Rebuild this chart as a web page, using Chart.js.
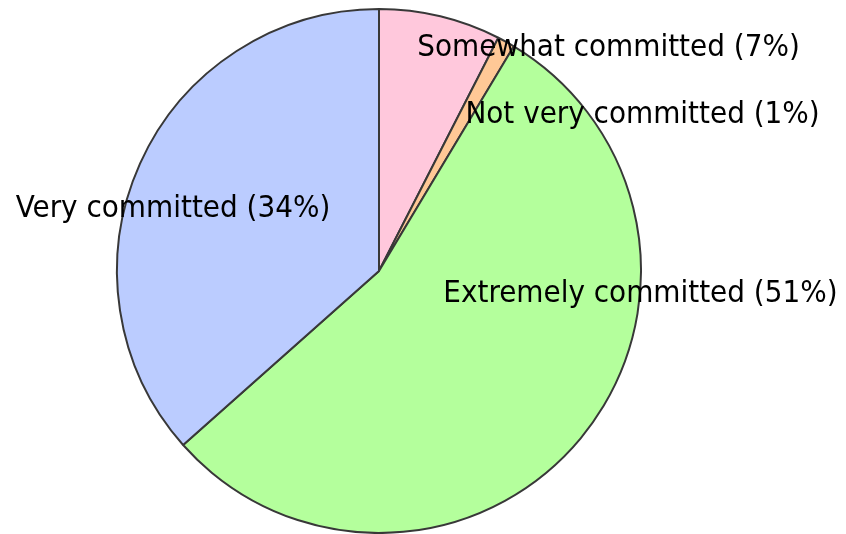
<!DOCTYPE html>
<html lang="en">
  <head>
    <meta charset="UTF-8" />
    <title>Commitment</title>
    <script src="https://cdn.jsdelivr.net/npm/chart.js@4.4.1/dist/chart.umd.min.js"></script>
    <style>
      body {
        margin: 0;
        background-color: white;
      }
      .chart-container {
        width: 846px;
        height: 534px;
      }
    </style>
  </head>
  <body>
    <div class="chart-container">
      <canvas id="myChart" width="846" height="534"></canvas>
    </div>

    <script>
      const categories = [
        "Somewhat committed",
        "Not very committed",
        "Extremely committed",
        "Very committed",
      ];
      const percents = [7, 1, 51, 34];
      const sliceColors = ["#ffc8dc", "#ffc896", "#b4ff9c", "#bbccff"];

      // label centre offsets from the pie centre, in units of the radius
      const labelSpots = [
        [0.876, -0.821],
        [1.006, -0.565],
        [0.998, 0.118],
        [-0.786, -0.206],
      ];

      const pieLabels = {
        id: "pieLabels",
        afterDraw(chart) {
          const arc = chart.getDatasetMeta(0).data[0];
          if (!arc) return;
          const r = arc.outerRadius;
          const ctx = chart.ctx;
          ctx.save();
          ctx.font = "31px 'DejaVu Sans Condensed', 'DejaVu Sans'";
          ctx.fillStyle = "#000";
          ctx.textAlign = "center";
          ctx.textBaseline = "alphabetic";
          categories.forEach((name, i) => {
            const [fx, fy] = labelSpots[i];
            ctx.fillText(name + " (" + percents[i] + "%)", arc.x + fx * r, arc.y + fy * r);
          });
          ctx.restore();
        },
      };

      const ctx = document.getElementById("myChart").getContext("2d");
      const myChart = new Chart(ctx, {
        type: "pie",
        data: {
          labels: categories,
          datasets: [
            {
              data: percents,
              backgroundColor: sliceColors,
              borderColor: "#383838",
              borderWidth: 2,
            },
          ],
        },
        options: {
          responsive: false,
          animation: false,
          layout: {
            padding: { left: 0, right: 88, top: 8, bottom: 0 },
          },
          plugins: {
            legend: { display: false },
            tooltip: { enabled: false },
          },
        },
        plugins: [pieLabels],
      });
    </script>
  </body>
</html>
